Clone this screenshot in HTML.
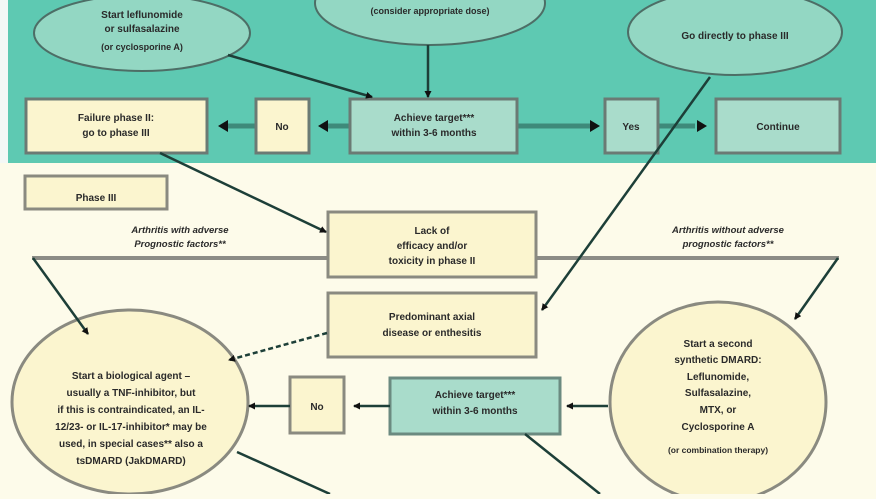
<!DOCTYPE html>
<html><head><meta charset="utf-8"><style>
body{margin:0;width:876px;height:494px;overflow:hidden;background:#fdfbea}
svg text{font-family:"Liberation Sans",sans-serif;font-weight:bold;font-size:10px;fill:#2a2a2a;text-anchor:middle}
</style></head><body>
<svg width="876" height="494" viewBox="0 0 876 494">
<defs>
<marker id="a" markerWidth="7" markerHeight="7" refX="6" refY="3.5" orient="auto" markerUnits="userSpaceOnUse"><path d="M0,0L7,3.5L0,7z" fill="#111"/></marker>
</defs>
<rect x="0" y="0" width="876" height="494" fill="#fdfbea"/>
<rect x="0" y="0" width="8" height="163" fill="#f4f8f6"/>
<rect x="8" y="0" width="868" height="163" fill="#5ec9b2"/>
<g stroke="#4d6e66" stroke-width="2">
<ellipse cx="142" cy="33" rx="108" ry="38" fill="#93d7c3"/>
<ellipse cx="430" cy="3" rx="115" ry="42" fill="#93d7c3"/>
<ellipse cx="735" cy="32" rx="107" ry="43" fill="#93d7c3"/>
</g>
<text x="142" y="18">Start leflunomide</text><text x="142" y="32">or sulfasalazine</text>
<text x="142" y="50" style="font-size:9px">(or cyclosporine A)</text>
<text x="430" y="14" style="font-size:9px">(consider appropriate dose)</text>
<text x="735" y="39">Go directly to phase III</text>
<g stroke="#3e8a7a" stroke-width="5">
<line x1="350" y1="126" x2="325" y2="126"/><line x1="256" y1="126" x2="228" y2="126"/>
<line x1="517" y1="126" x2="590" y2="126"/><line x1="658" y1="126" x2="695" y2="126"/>
</g>
<g fill="#111"><path d="M318,126l10,-6v12z"/><path d="M218,126l10,-6v12z"/><path d="M600,126l-10,-6v12z"/><path d="M707,126l-10,-6v12z"/></g>
<g stroke="#6b7a74" stroke-width="3">
<rect x="26" y="99" width="181" height="54" fill="#fbf5cf"/>
<rect x="256" y="99" width="53" height="54" fill="#fbf5cf"/>
<rect x="350" y="99" width="167" height="54" fill="#a9dccb"/>
<rect x="605" y="99" width="53" height="54" fill="#a9dccb"/>
<rect x="716" y="99" width="124" height="54" fill="#a9dccb"/>
<rect x="25" y="176" width="142" height="33" fill="#fbf5cf" stroke="#8a8a80"/>
</g>
<text x="116" y="121">Failure phase II:</text><text x="116" y="136">go to phase III</text>
<text x="282" y="130">No</text>
<text x="434" y="121">Achieve target***</text><text x="434" y="136">within 3-6 months</text>
<text x="631" y="130">Yes</text><text x="778" y="130">Continue</text>
<text x="96" y="201">Phase III</text>
<g stroke="#8c8c86" stroke-width="4"><line x1="32" y1="258" x2="327" y2="258"/><line x1="536" y1="258" x2="839" y2="258"/></g>
<text x="180" y="233" style="font-style:italic;font-size:9.5px">Arthritis with adverse</text>
<text x="180" y="247" style="font-style:italic;font-size:9.5px">Prognostic factors**</text>
<text x="728" y="233" style="font-style:italic;font-size:9.5px">Arthritis without adverse</text>
<text x="728" y="247" style="font-style:italic;font-size:9.5px">prognostic factors**</text>
<g stroke="#8a8a80" stroke-width="3">
<rect x="328" y="212" width="208" height="65" fill="#fbf5cf"/>
<rect x="328" y="293" width="208" height="64" fill="#fbf5cf"/>
<ellipse cx="130" cy="402" rx="118" ry="92" fill="#fbf5cf"/>
<ellipse cx="718" cy="402" rx="108" ry="100" fill="#fbf5cf"/>
<rect x="290" y="377" width="54" height="56" fill="#fbf5cf"/>
<rect x="390" y="378" width="170" height="56" fill="#a9dccb" stroke="#6b8a80"/>
</g>
<g stroke="#1d3f38" stroke-width="2.5" fill="none">
<line x1="228" y1="55" x2="372" y2="97" marker-end="url(#a)"/>
<line x1="428" y1="45" x2="428" y2="97" marker-end="url(#a)"/>
<line x1="160" y1="153" x2="326" y2="232" marker-end="url(#a)"/>
<line x1="710" y1="77" x2="542" y2="310" marker-end="url(#a)"/>
<line x1="33" y1="258" x2="88" y2="334" marker-end="url(#a)"/>
<line x1="838" y1="258" x2="795" y2="319" marker-end="url(#a)"/>
<line x1="327" y1="333" x2="229" y2="360" stroke-dasharray="5,3" marker-end="url(#a)"/>
<line x1="237" y1="452" x2="330" y2="494"/>
<line x1="525" y1="434" x2="600" y2="494"/>
<line x1="608" y1="406" x2="567" y2="406" marker-end="url(#a)"/>
<line x1="390" y1="406" x2="354" y2="406" marker-end="url(#a)"/>
<line x1="290" y1="406" x2="249" y2="406" marker-end="url(#a)"/>
</g>
<text x="432" y="234">Lack of</text><text x="432" y="249">efficacy and/or</text><text x="432" y="264">toxicity in phase II</text>
<text x="432" y="320">Predominant axial</text><text x="432" y="336">disease or enthesitis</text>
<text x="317" y="410">No</text>
<text x="475" y="398">Achieve target***</text><text x="475" y="414">within 3-6 months</text>
<g style="font-size:9.5px">
<text x="131" y="379">Start a biological agent –</text>
<text x="131" y="396">usually a TNF-inhibitor, but</text>
<text x="131" y="413">if this is contraindicated, an IL-</text>
<text x="131" y="430">12/23- or IL-17-inhibitor* may be</text>
<text x="131" y="447">used, in special cases** also a</text>
<text x="131" y="464">tsDMARD (JakDMARD)</text>
<text x="718" y="347">Start a second</text>
<text x="718" y="363">synthetic DMARD:</text>
<text x="718" y="380">Leflunomide,</text>
<text x="718" y="396">Sulfasalazine,</text>
<text x="718" y="413">MTX, or</text>
<text x="718" y="430">Cyclosporine A</text>
<text x="718" y="453" style="font-size:8.5px">(or combination therapy)</text>
</g>
</svg>
</body></html>
